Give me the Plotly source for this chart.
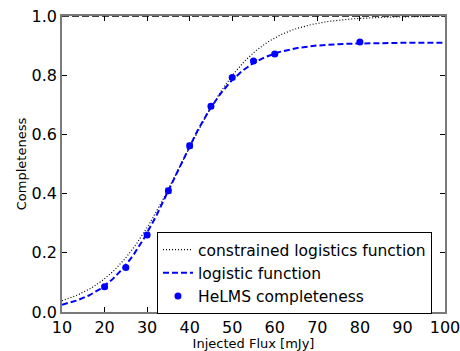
import numpy as np
import plotly.graph_objects as go

# Measured completeness of injected sources
flux = [20, 25, 30, 35, 40, 45, 50, 55, 60, 80]
completeness = [0.085, 0.150, 0.260, 0.410, 0.562, 0.695, 0.792, 0.848, 0.872, 0.912]
completeness_err = [0.006, 0.006, 0.007, 0.008, 0.008, 0.007, 0.006, 0.005, 0.005, 0.004]

# Fitted logistic parameters: amplitude, midpoint, width
free_fit = dict(amp=0.91, x0=36.5, s=7.4)
constrained_fit = dict(amp=1.0, x0=38.0, s=8.7)

x_grid = np.linspace(10, 100, 400)


def logistic(x, amp, x0, s):
    return amp / (1.0 + np.exp(-(x - x0) / s))


FONT = "DejaVu Sans"
BLUE = "#0000ff"

fig = go.Figure()

fig.add_trace(go.Scatter(
    x=x_grid, y=logistic(x_grid, **constrained_fit), mode="lines",
    name="constrained logistics function", legendgroup="a",
    line=dict(color="black", width=1.2, dash="1px,2px"),
))
fig.add_trace(go.Scatter(
    x=x_grid, y=logistic(x_grid, **free_fit), mode="lines",
    name="logistic function", legendgroup="b",
    line=dict(color=BLUE, width=2, dash="6px,3px"),
))
fig.add_trace(go.Scatter(
    x=flux, y=completeness, mode="markers",
    name="HeLMS completeness", legendgroup="c",
    marker=dict(color=BLUE, size=7, symbol="circle"),
    error_y=dict(type="data", array=completeness_err, color=BLUE,
                 thickness=1, width=3),
))

# reference line at full completeness
fig.add_hline(y=1.0, line=dict(color="black", width=1.3, dash="7px,3px"),
              layer="above")

axis_common = dict(
    showgrid=False, zeroline=False, showline=True, linecolor="#7a7a7a",
    linewidth=1.5, mirror="ticks", ticks="inside", ticklen=5,
    tickcolor="black", tickwidth=1, automargin=False,
    ticklabeloverflow="allow",
    tickfont=dict(family=FONT, size=16, color="black"),
)

fig.update_xaxes(range=[10, 100], tickvals=list(range(10, 101, 10)),
                 title=dict(text="Injected Flux [mJy]",
                            font=dict(family=FONT, size=13, color="black"),
                            standoff=2),
                 **axis_common)
fig.update_yaxes(range=[0, 1.0], tickvals=[0, 0.2, 0.4, 0.6, 0.8, 1.0],
                 tickformat=".1f",
                 title=dict(text="Completeness",
                            font=dict(family=FONT, size=13, color="black"),
                            standoff=2),
                 **axis_common)

fig.update_layout(
    width=460, height=351,
    margin=dict(l=62, r=15, t=16, b=39),
    paper_bgcolor="white", plot_bgcolor="white",
    font=dict(family=FONT, color="black"),
    legend=dict(
        x=0.248, y=0.27, xanchor="left", yanchor="top",
        bgcolor="white", bordercolor="black", borderwidth=1,
        font=dict(family=FONT, size=15.5, color="black"),
        traceorder="grouped", tracegroupgap=0,
    ),
)

fig.write_html("out.html")
